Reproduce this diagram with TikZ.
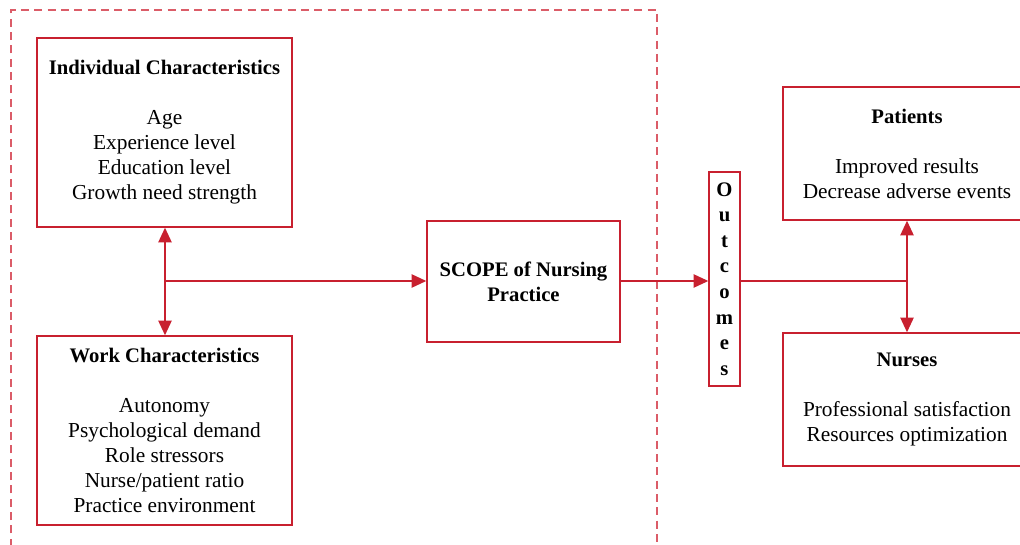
\documentclass[tikz,border=0pt]{standalone}
\usepackage{fontspec}
\setmainfont{Liberation Serif}
\usepackage{tikz}
\usepackage{xcolor}
\usetikzlibrary{arrows.meta}

\begin{document}
\begin{tikzpicture}[x=0.75pt,y=-0.75pt,
  mybox/.style={draw=scarlet,line width=1.1pt,inner sep=0pt,align=center,
    font=\fontsize{16}{18.75}\selectfont},
  myarrow/.style={draw=scarlet,line width=1.1pt,-{Triangle[length=11pt,width=10pt]}},
  mytwoway/.style={draw=scarlet,line width=1.1pt,{Triangle[length=11pt,width=10pt]}-{Triangle[length=11pt,width=10pt]}}]
\definecolor{scarlet}{HTML}{C8202F}
\definecolor{rosy}{HTML}{DB5C68}
\clip (0,0) rectangle (1020,545);
% dashed frame, open at the bottom
\draw[rosy,line width=1.1pt,dash pattern=on 6pt off 4pt] (11,560) -- (11,10) -- (657,10) -- (657,560);
\node [mybox,minimum width=191.25pt,minimum height=141.75pt] (ind) at (164.5,132.5)
  {{\fontsize{15.5}{18.75}\selectfont\bfseries Individual Characteristics}\\[18.75pt]Age\\Experience level\\Education level\\Growth need strength};
\node [mybox,minimum width=191.25pt,minimum height=141.75pt] (work) at (164.5,430.5)
  {{\fontsize{15.5}{18.75}\selectfont\bfseries Work Characteristics}\\[18.75pt]Autonomy\\Psychological demand\\Role stressors\\Nurse/patient ratio\\Practice environment};
\node [mybox,minimum width=144.75pt,minimum height=90.75pt,font=\fontsize{15.5}{18.75}\selectfont\bfseries] (scope) at (523.5,281.5)
  {SCOPE of Nursing\\Practice};
\node [mybox,minimum width=23.25pt,minimum height=160.5pt,font=\fontsize{15.5}{19.2}\selectfont\bfseries] (out) at (724.5,279)
  {O\\u\\t\\c\\o\\m\\e\\s};
\node [mybox,minimum width=186pt,minimum height=99.75pt] (pat) at (907,153.5)
  {{\fontsize{15.5}{18.75}\selectfont\bfseries Patients}\\[18.75pt]Improved results\\Decrease adverse events};
\node [mybox,minimum width=186pt,minimum height=99.75pt] (nur) at (907,399.5)
  {{\fontsize{15.5}{18.75}\selectfont\bfseries Nurses}\\[18.75pt]Professional satisfaction\\Resources optimization};
\coordinate (left) at (165,281);
\coordinate (right) at (907,281);
\draw [mytwoway] (ind.south -| left) -- (work.north -| left);
\draw [myarrow] (left) -- (scope.west |- left);
\draw [myarrow] (scope.east |- left) -- (out.west |- left);
\draw [draw=scarlet,line width=1.1pt] (out.east |- right) -- (right);
\draw [mytwoway] (pat) -- (nur);
\end{tikzpicture}
\end{document}
